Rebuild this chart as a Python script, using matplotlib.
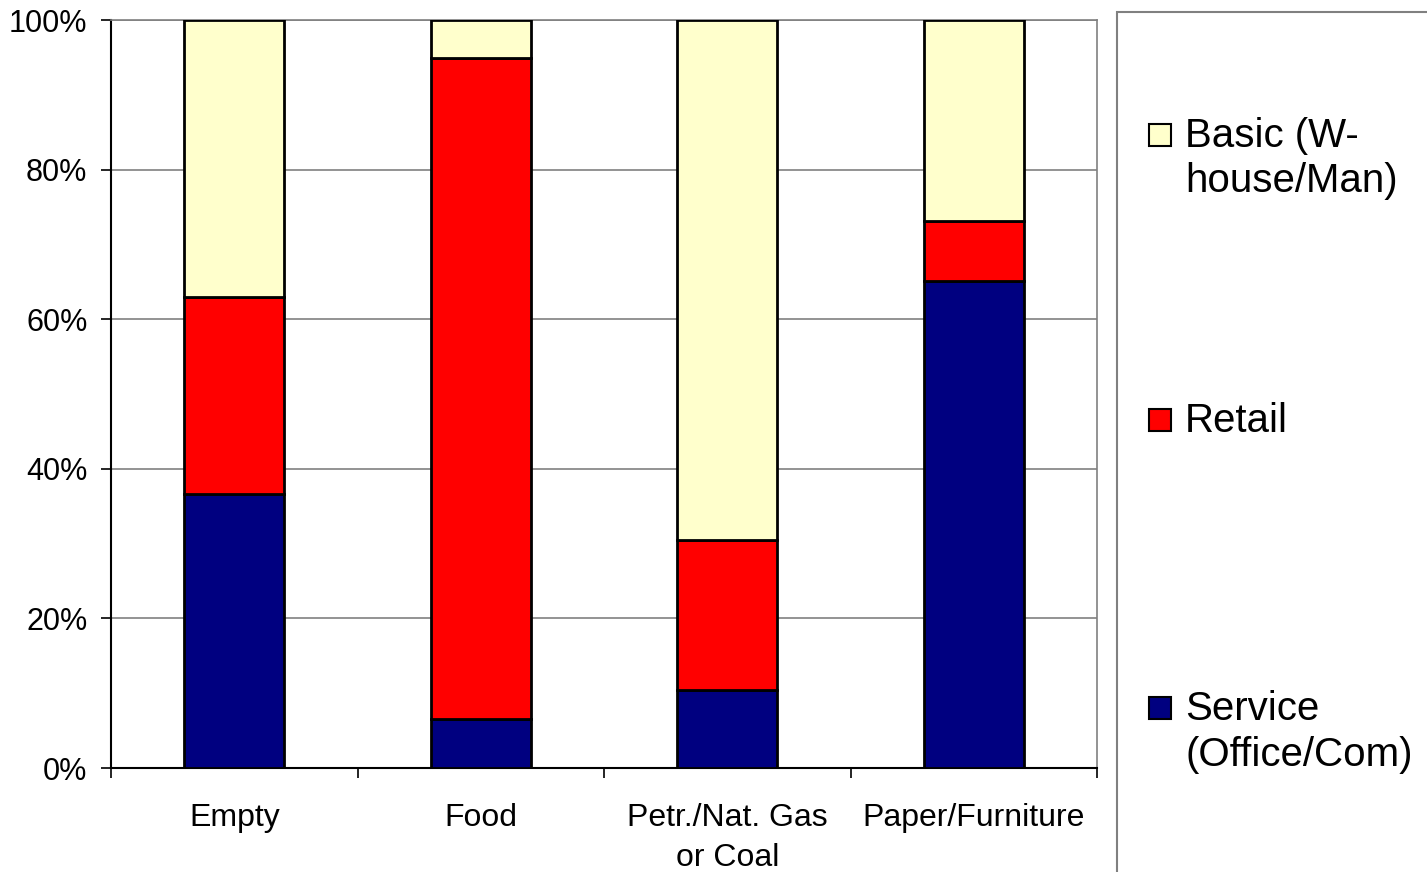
import matplotlib.pyplot as plt
import numpy as np
from matplotlib.patches import Rectangle
from matplotlib.ticker import PercentFormatter

plt.rcParams['font.family'] = ['Liberation Sans', 'DejaVu Sans']

# share of each use type (percent of the column)
categories = ['Empty', 'Food', 'Petr./Nat. Gas\nor Coal', 'Paper/Furniture']
service = [36.6, 6.5, 10.4, 65.1]
retail = [26.4, 88.4, 20.1, 8.0]
basic = [37.0, 5.1, 69.5, 26.9]

series_names = ['Service\n(Office/Com)', 'Retail', 'Basic (W-\nhouse/Man)']
series_colors = ['#000080', '#ff0000', '#ffffcc']

W, H = 1427, 872
fig = plt.figure(figsize=(W / 100, H / 100), dpi=100)
ax = fig.add_axes([111 / W, 1 - 768 / H, (1097 - 111) / W, (768 - 20) / H])

x = np.arange(len(categories))
bottom = np.zeros(len(categories))
for vals, color in zip([service, retail, basic], series_colors):
    ax.bar(x, vals, width=0.405, bottom=bottom, color=color,
           edgecolor='black', linewidth=2, zorder=3)
    bottom += np.array(vals)

ax.set_xlim(-0.5, len(categories) - 0.5)
ax.set_ylim(0, 100)
ax.set_yticks(np.arange(0, 101, 20))
ax.yaxis.set_major_formatter(PercentFormatter(decimals=0))
ax.yaxis.grid(True, color='#808080', linewidth=1.2, zorder=0)

# category labels sit between boundary ticks
ax.set_xticks(np.arange(-0.5, len(categories), 1.0))
ax.set_xticklabels([])
ax.set_xticks(x, minor=True)
ax.set_xticklabels(categories, minor=True, fontsize=23, linespacing=1.45)
ax.tick_params(axis='x', which='minor', length=0, pad=25)
ax.tick_params(axis='x', which='major', length=7, width=1.2, direction='out')
ax.tick_params(axis='y', length=7, width=1.2, labelsize=22, pad=10)

for side in ['top', 'right']:
    ax.spines[side].set_color('#808080')
    ax.spines[side].set_linewidth(1.2)
for side in ['left', 'bottom']:
    ax.spines[side].set_linewidth(1.5)

# legend panel on the right
fig.patches.append(Rectangle((1117 / W, -0.1), 0.5, 1 - 12 / H + 0.1,
                             transform=fig.transFigure, facecolor='white',
                             edgecolor='#808080', linewidth=1.5))
legend_y = [708, 420, 135]
for name, color, ly in zip(series_names, series_colors, legend_y):
    fig.patches.append(Rectangle((1149 / W, 1 - (ly + 11) / H), 22 / W, 22 / H,
                                 transform=fig.transFigure, facecolor=color,
                                 edgecolor='black', linewidth=1.5))
    fig.text(1185 / W, 1 - (ly - 18) / H, name, fontsize=29, va='top',
             ha='left', linespacing=1.25)

fig.savefig('out.png', dpi=100)
